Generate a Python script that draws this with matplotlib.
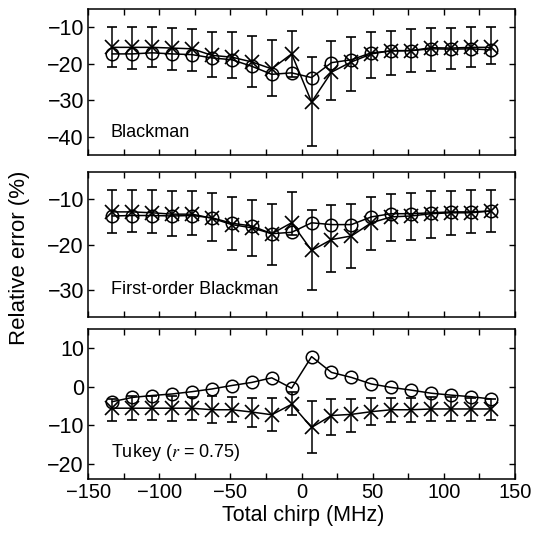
import numpy as np
import matplotlib.pyplot as plt
from matplotlib.ticker import MultipleLocator

plt.rcParams['font.family'] = ['Liberation Sans', 'DejaVu Sans']
plt.rcParams['mathtext.fontset'] = 'stix'

# total chirp (MHz)
chirp = [-133, -119, -105, -91, -77, -63, -49, -35, -21, -7,
         7, 21, 35, 49, 63, 77, 91, 105, 119, 133]

# Blackman
bl_circ = [-17.3, -17.3, -17.0, -17.3, -17.5, -18.4, -18.9, -20.7, -22.9, -22.5,
           -23.8, -19.7, -18.9, -17.0, -16.5, -16.4, -15.9, -16.0, -15.9, -16.2]
bl_cross = [-15.5, -15.5, -15.5, -15.7, -15.9, -17.7, -18.2, -19.5, -21.4, -17.3,
            -30.5, -22.3, -19.5, -17.3, -16.4, -16.4, -15.6, -15.7, -15.5, -15.5]
bl_hi = [-10.0, -10.0, -10.0, -10.3, -10.5, -11.2, -11.4, -12.3, -13.5, -10.9,
         -18.2, -13.8, -12.7, -11.2, -10.9, -10.5, -10.2, -10.2, -10.0, -10.0]
bl_lo = [-20.9, -21.4, -20.9, -21.8, -22.0, -23.5, -23.8, -26.5, -28.8, -23.6,
         -42.7, -30.0, -27.5, -23.8, -23.2, -22.3, -22.0, -21.4, -20.9, -20.2]

# First-order Blackman
fb_circ = [-13.7, -13.6, -13.6, -13.7, -13.6, -14.1, -15.3, -15.9, -17.6, -17.3,
           -15.2, -15.6, -15.6, -13.9, -13.2, -13.2, -13.0, -12.8, -12.8, -12.6]
fb_cross = [-12.8, -12.8, -13.0, -13.3, -13.3, -14.2, -15.6, -16.3, -17.6, -15.2,
            -21.3, -18.9, -18.1, -15.2, -13.9, -13.7, -13.2, -13.0, -13.0, -12.6]
fb_hi = [-8.0, -7.9, -8.0, -8.3, -8.3, -8.7, -9.6, -10.2, -11.0, -8.5,
         -12.4, -11.3, -11.1, -9.6, -8.9, -8.7, -8.3, -8.1, -8.0, -7.9]
fb_lo = [-17.4, -17.3, -17.4, -18.1, -17.9, -19.3, -21.3, -22.6, -24.6, -17.8,
         -30.0, -26.0, -25.2, -21.1, -19.3, -19.0, -18.5, -17.8, -17.4, -17.2]

# Tukey (r = 0.75)
tk_circ = [-3.9, -2.8, -2.3, -1.9, -1.3, -0.6, 0.3, 1.1, 2.3, -0.4,
           7.8, 3.7, 2.4, 0.7, -0.2, -0.9, -1.7, -2.2, -2.6, -3.2]
tk_cross = [-5.6, -5.6, -5.6, -5.6, -5.6, -6.0, -6.0, -6.6, -7.3, -4.6,
            -10.6, -7.5, -7.2, -6.5, -6.0, -6.0, -5.8, -5.8, -5.8, -5.8]
tk_hi = [-3.2, -2.5, -2.4, -2.3, -2.7, -2.5, -2.7, -2.9, -3.0, -1.3,
         -3.7, -3.2, -3.2, -2.9, -3.0, -2.9, -2.7, -2.7, -3.0, -3.2]
tk_lo = [-8.9, -8.6, -8.6, -9.0, -8.6, -9.5, -9.2, -10.4, -11.5, -7.3,
         -17.3, -12.5, -11.8, -9.9, -9.2, -9.2, -9.0, -8.8, -8.8, -8.6]

panels = [
    (bl_circ, bl_cross, bl_hi, bl_lo, 'Blackman', (-45, -5), [-10, -20, -30, -40], -39),
    (fb_circ, fb_cross, fb_hi, fb_lo, 'First-order Blackman', (-36, -4), [-10, -20, -30], -30),
    (tk_circ, tk_cross, tk_hi, tk_lo, r'Tukey ($r$ = 0.75)', (-24, 15), [10, 0, -10, -20], -17.2),
]

fig = plt.figure(figsize=(5.41, 5.34), dpi=100)
boxes = [(0.163, 0.710, 0.789, 0.273),
         (0.163, 0.406, 0.789, 0.272),
         (0.163, 0.103, 0.789, 0.281)]

for i, (circ, cross, hi, lo, name, ylim, yt, ty) in enumerate(panels):
    ax = fig.add_axes(boxes[i])
    x = np.array(chirp)
    c = np.array(cross)
    yerr = [c - np.array(lo), np.array(hi) - c]
    ax.plot(x, circ, '-o', color='black', mfc='none', ms=9, mew=1.1, lw=1.1)
    ax.errorbar(x, c, yerr=yerr, fmt='-x', color='black', ms=10, mew=1.2,
                lw=1.1, elinewidth=1.1, capsize=3.5, capthick=1.1)
    ax.set_xlim(-150, 150)
    ax.set_ylim(*ylim)
    ax.set_yticks(yt)
    ax.xaxis.set_major_locator(MultipleLocator(50))
    ax.xaxis.set_minor_locator(MultipleLocator(25))
    ax.tick_params(which='both', direction='in', top=True, right=True,
                   length=4, width=1)
    ax.tick_params(axis='x', labelsize=14.5, pad=3)
    ax.tick_params(axis='y', labelsize=15.5, pad=3)
    if i < 2:
        ax.tick_params(labelbottom=False)
    for s in ax.spines.values():
        s.set_linewidth(1.1)
    ax.text(-134, ty, name, fontsize=13, ha='left', va='center')

fig.text(0.036, 0.517, 'Relative error (%)', rotation=90, fontsize=16,
         ha='center', va='center')
fig.text(0.56, 0.034, 'Total chirp (MHz)', fontsize=15.5, ha='center', va='center')

fig.savefig('out.png', dpi=100)
